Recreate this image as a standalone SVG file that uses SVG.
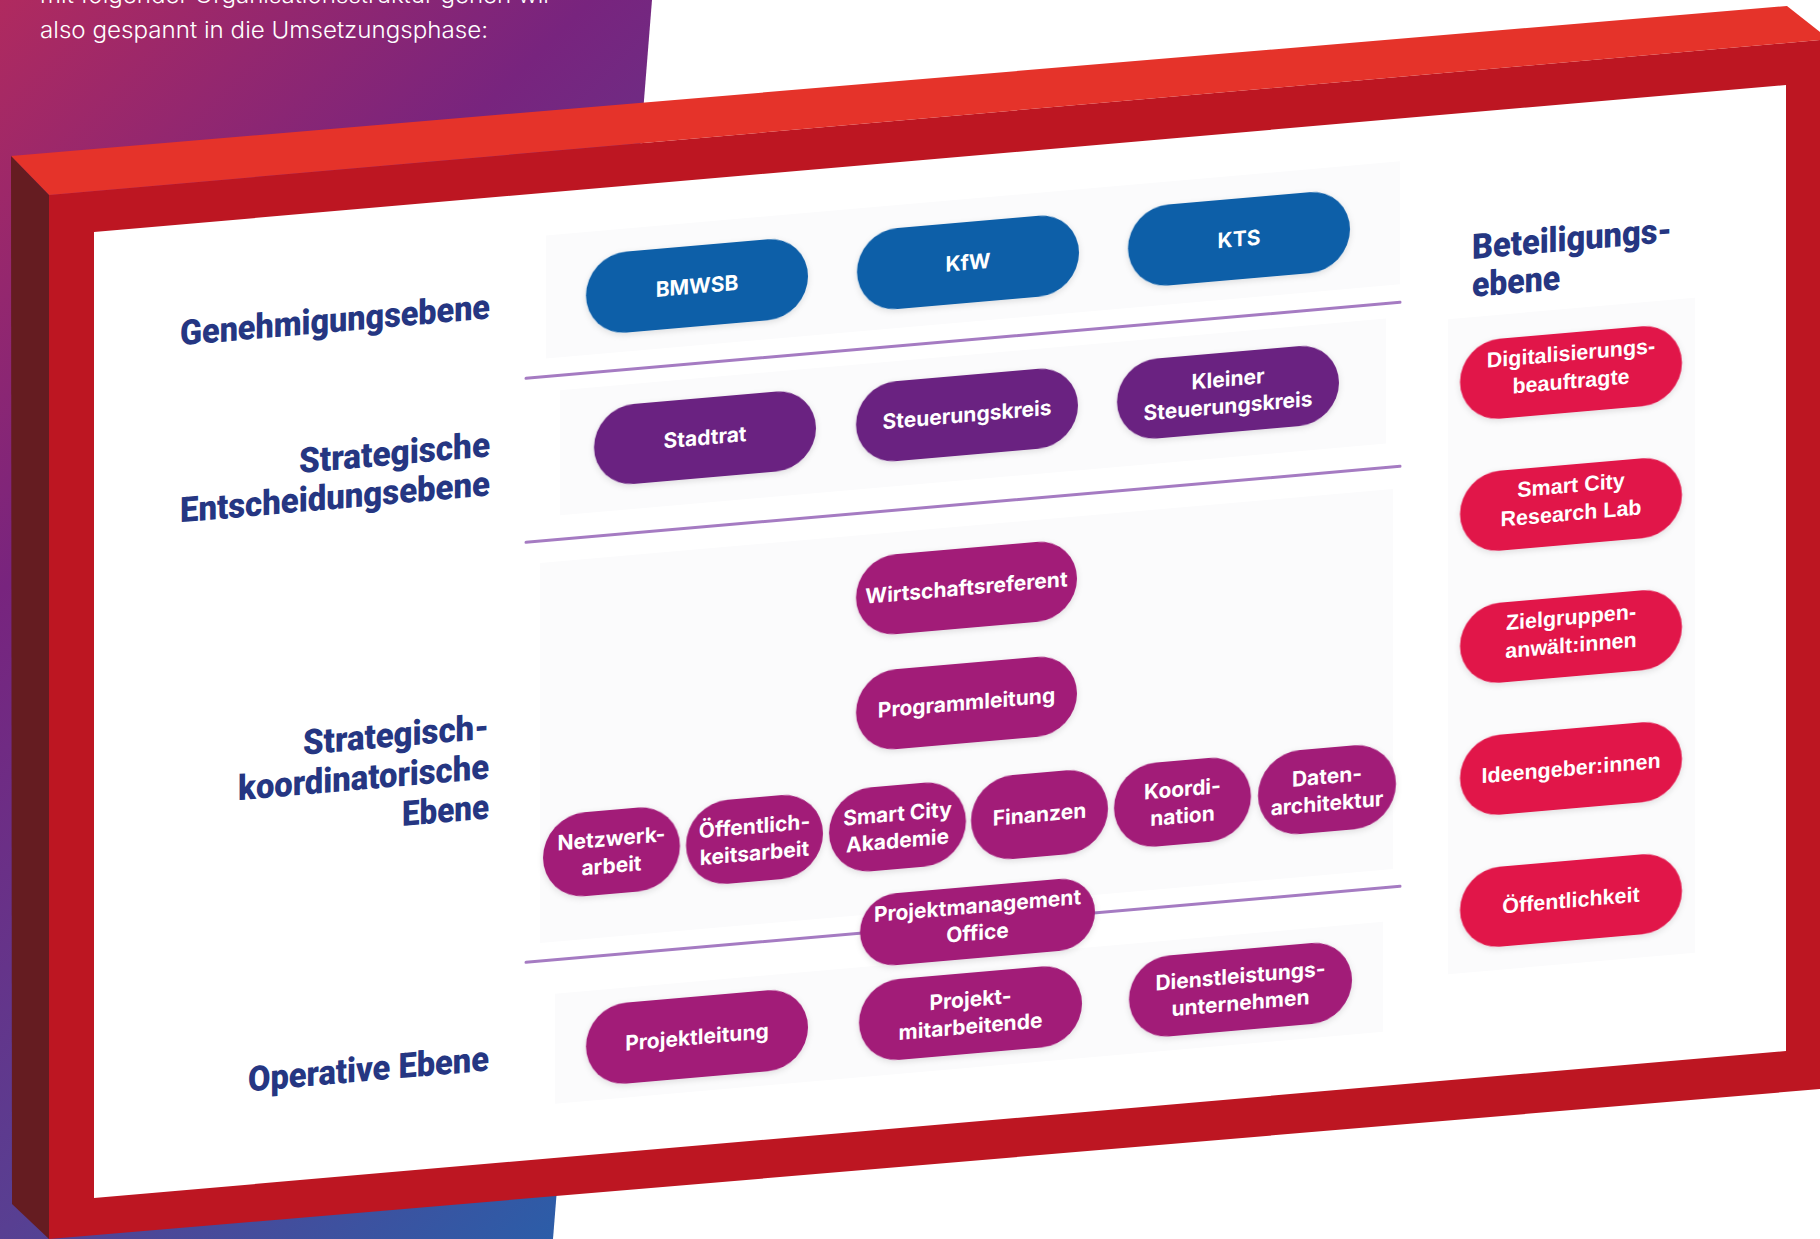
<svg xmlns="http://www.w3.org/2000/svg" width="1820" height="1239" viewBox="0 0 1820 1239">
<defs>
<linearGradient id="bg" gradientUnits="userSpaceOnUse" x1="0" y1="0" x2="895" y2="895">
<stop offset="0" stop-color="#B02A5F"/>
<stop offset="0.33" stop-color="#78247E"/>
<stop offset="0.69" stop-color="#583F92"/>
<stop offset="1" stop-color="#2C5DA8"/>
</linearGradient>
<filter id="sh" x="-10%" y="-20%" width="120%" height="150%">
<feDropShadow dx="0" dy="2" stdDeviation="3" flood-color="#000" flood-opacity="0.12"/>
</filter>
</defs>
<style>
.intro{font-family:Inter,"Liberation Sans",sans-serif;font-weight:300;font-size:23px;fill:#FFFFFF}
.lbl{font-family:Roboto,"Liberation Sans",sans-serif;font-weight:900;font-size:35px;fill:#253682}
.lr{text-anchor:end}
.pt{font-family:Inter,"Liberation Sans",sans-serif;font-weight:700;font-size:21px;fill:#FFFFFF;text-anchor:middle}
.pr{font-family:"Liberation Sans",Arial,sans-serif;font-weight:700;font-size:21.5px;fill:#FFFFFF;text-anchor:middle}
.blue{fill:#0B5EA8;filter:url(#sh)}
.viol{fill:#6B2481;filter:url(#sh)}
.mag{fill:#A21A78;filter:url(#sh)}
.red{fill:#E1144A;filter:url(#sh)}
.panel{fill:#FBFBFC}
.sep{stroke:#A57BC2;stroke-width:3;fill:none;stroke-linecap:round}
</style>
<rect x="0" y="0" width="1820" height="1239" fill="#FFFFFF"/>
<polygon points="0,0 652,0 553,1239 0,1239" fill="url(#bg)"/>
<text class="intro" x="40" y="3" textLength="512" lengthAdjust="spacingAndGlyphs">mit folgender Organisationsstruktur gehen wir</text>
<text class="intro" x="40" y="38" textLength="448" lengthAdjust="spacingAndGlyphs">also gespannt in die Umsetzungsphase:</text>

<g id="frame">
<polygon points="49,195 1820,40 1820,1089 49,1239" fill="#BD1622"/>
<polygon points="11,156 1787,6 1820,32 1820,40 49,195" fill="#E5332A"/>
<polygon points="11,156 49,195 49,1239 12,1204" fill="#651C21"/>
<polygon points="94,232 1786,85 1786,1051 94,1198" fill="#FFFFFF"/>
</g>

<g id="board" transform="matrix(1 -0.0869 0 1 0 0)">
<g id="panels">
<rect class="panel" x="546" y="283" width="854" height="123"/>
<rect class="panel" x="560" y="439" width="826" height="125"/>
<rect class="panel" x="540" y="610" width="853" height="380"/>
<rect class="panel" x="555" y="1042" width="828" height="110"/>
<rect class="panel" x="1448" y="445" width="247" height="655"/>
</g>

<g id="connectors">
<line class="sep" x1="526" y1="424" x2="1400" y2="424"/>
<line class="sep" x1="526" y1="588" x2="1400" y2="588"/>
<line class="sep" x1="526" y1="1008" x2="1400" y2="1008"/>
</g>

<g id="labels">
<text class="lbl lr" x="490" y="361" textLength="310" lengthAdjust="spacingAndGlyphs">Genehmigungsebene</text>
<text class="lbl lr" x="490" y="499" textLength="191" lengthAdjust="spacingAndGlyphs">Strategische</text>
<text class="lbl lr" x="490" y="538" textLength="310" lengthAdjust="spacingAndGlyphs">Entscheidungsebene</text>
<text class="lbl lr" x="489" y="781" textLength="186" lengthAdjust="spacingAndGlyphs">Strategisch-</text>
<text class="lbl lr" x="489" y="821" textLength="251" lengthAdjust="spacingAndGlyphs">koordinatorische</text>
<text class="lbl lr" x="489" y="861" textLength="87" lengthAdjust="spacingAndGlyphs">Ebene</text>
<text class="lbl lr" x="489" y="1113" textLength="241" lengthAdjust="spacingAndGlyphs">Operative Ebene</text>
<text class="lbl" x="1472" y="387" textLength="200" lengthAdjust="spacingAndGlyphs">Beteiligungs-</text>
<text class="lbl" x="1472" y="425" textLength="88" lengthAdjust="spacingAndGlyphs">ebene</text>
</g>

<g id="n-bmwsb"><rect class="blue" x="586" y="306" width="222" height="81" rx="40.5"/><text class="pt" x="697" y="354">BMWSB</text></g>
<g id="n-kfw"><rect class="blue" x="857" y="306" width="222" height="81" rx="40.5"/><text class="pt" x="968" y="354">KfW</text></g>
<g id="n-kts"><rect class="blue" x="1128" y="306" width="222" height="81" rx="40.5"/><text class="pt" x="1239" y="354">KTS</text></g>

<g id="n-stadtrat"><rect class="viol" x="594" y="459" width="222" height="80" rx="40"/><text class="pt" x="705" y="506">Stadtrat</text></g>
<g id="n-steuerungskreis"><rect class="viol" x="856" y="459" width="222" height="80" rx="40"/><text class="pt" x="967" y="506">Steuerungskreis</text></g>
<g id="n-kleiner"><rect class="viol" x="1117" y="459" width="222" height="80" rx="40"/><text class="pt" x="1228" y="493">Kleiner</text><text class="pt" x="1228" y="520">Steuerungskreis</text></g>

<g id="n-wirtschaftsreferent"><rect class="mag" x="856" y="632" width="221" height="80" rx="40"/><text class="pt" x="966.5" y="679">Wirtschaftsreferent</text></g>
<g id="n-programmleitung"><rect class="mag" x="856" y="747" width="221" height="80" rx="40"/><text class="pt" x="966.5" y="794">Programmleitung</text></g>

<g id="n-netzwerkarbeit"><rect class="mag" x="543" y="863" width="137" height="84" rx="42"/><text class="pt" x="611.5" y="899">Netzwerk-</text><text class="pt" x="611.5" y="926">arbeit</text></g>
<g id="n-oeffentlichkeitsarbeit"><rect class="mag" x="686" y="863" width="137" height="84" rx="42"/><text class="pt" x="754.5" y="899">Öffentlich-</text><text class="pt" x="754.5" y="926">keitsarbeit</text></g>
<g id="n-akademie"><rect class="mag" x="829" y="863" width="137" height="84" rx="42"/><text class="pt" x="897.5" y="899">Smart City</text><text class="pt" x="897.5" y="926">Akademie</text></g>
<g id="n-finanzen"><rect class="mag" x="971" y="863" width="137" height="84" rx="42"/><text class="pt" x="1039.5" y="912">Finanzen</text></g>
<g id="n-koordination"><rect class="mag" x="1114" y="863" width="137" height="84" rx="42"/><text class="pt" x="1182.5" y="899">Koordi-</text><text class="pt" x="1182.5" y="926">nation</text></g>
<g id="n-datenarchitektur"><rect class="mag" x="1258" y="863" width="138" height="84" rx="42"/><text class="pt" x="1327" y="899">Daten-</text><text class="pt" x="1327" y="926">architektur</text></g>

<g id="n-pmo"><rect class="mag" x="860" y="971" width="235" height="72" rx="36"/><text class="pt" x="977.5" y="998">Projektmanagement</text><text class="pt" x="977.5" y="1025">Office</text></g>

<g id="n-projektleitung"><rect class="mag" x="586" y="1057" width="222" height="81" rx="40.5"/><text class="pt" x="697" y="1105">Projektleitung</text></g>
<g id="n-projektmitarbeitende"><rect class="mag" x="859" y="1057" width="223" height="81" rx="40.5"/><text class="pt" x="970.5" y="1091">Projekt-</text><text class="pt" x="970.5" y="1118">mitarbeitende</text></g>
<g id="n-dienstleistung"><rect class="mag" x="1129" y="1057" width="223" height="81" rx="40.5"/><text class="pt" x="1240.5" y="1091">Dienstleistungs-</text><text class="pt" x="1240.5" y="1118">unternehmen</text></g>

<g id="n-digitalisierung"><rect class="red" x="1460" y="469" width="222" height="80" rx="40"/><text class="pr" x="1571" y="497">Digitalisierungs-</text><text class="pr" x="1571" y="525">beauftragte</text></g>
<g id="n-research"><rect class="red" x="1460" y="601" width="222" height="80" rx="40"/><text class="pr" x="1571" y="629">Smart City</text><text class="pr" x="1571" y="657">Research Lab</text></g>
<g id="n-zielgruppen"><rect class="red" x="1460" y="733" width="222" height="80" rx="40"/><text class="pr" x="1571" y="761">Zielgruppen-</text><text class="pr" x="1571" y="789">anwält:innen</text></g>
<g id="n-ideengeber"><rect class="red" x="1460" y="865" width="222" height="80" rx="40"/><text class="pr" x="1571" y="912">Ideengeber:innen</text></g>
<g id="n-oeffentlichkeit"><rect class="red" x="1460" y="997" width="222" height="80" rx="40"/><text class="pr" x="1571" y="1044">Öffentlichkeit</text></g>
</g>
</svg>
